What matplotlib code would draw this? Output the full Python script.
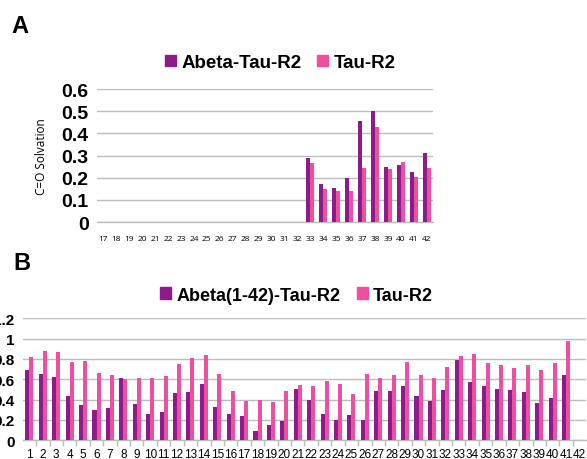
import numpy as np
import matplotlib.pyplot as plt
from matplotlib.patches import Patch
from matplotlib.ticker import FixedLocator

# Panel A: C=O solvation, residues 17-42
res_a = list(range(17, 43))
abeta_tau_a = [0, 0, 0, 0, 0, 0, 0, 0, 0, 0, 0, 0, 0, 0, 0, 0,
               0.29, 0.17, 0.153, 0.197, 0.456, 0.50, 0.25, 0.256, 0.228, 0.312]
tau_a = [0, 0, 0, 0, 0, 0, 0, 0, 0, 0, 0, 0, 0, 0, 0, 0,
         0.265, 0.148, 0.139, 0.14, 0.243, 0.43, 0.238, 0.27, 0.203, 0.246]

# Panel B: residues 1-42 (no bars for 42)
res_b = list(range(1, 43))
abeta_tau_b = [0.69, 0.65, 0.62, 0.43, 0.35, 0.30, 0.32, 0.61, 0.36, 0.26,
               0.28, 0.46, 0.47, 0.55, 0.33, 0.26, 0.24, 0.09, 0.145, 0.19,
               0.50, 0.40, 0.26, 0.20, 0.25, 0.20, 0.48, 0.48, 0.53, 0.43,
               0.39, 0.49, 0.79, 0.57, 0.53, 0.50, 0.49, 0.47, 0.37, 0.41,
               0.64, 0]
tau_b = [0.82, 0.88, 0.87, 0.77, 0.78, 0.66, 0.64, 0.60, 0.61, 0.61,
         0.63, 0.75, 0.81, 0.84, 0.65, 0.48, 0.39, 0.40, 0.38, 0.48,
         0.54, 0.53, 0.58, 0.55, 0.455, 0.65, 0.61, 0.64, 0.77, 0.64,
         0.61, 0.72, 0.83, 0.85, 0.76, 0.74, 0.71, 0.74, 0.69, 0.76,
         0.98, 0]

DARK = "#8C1C8A"
PINK = "#EE4FA1"
GRID = "#BDBDBD"
BOLD = "Liberation Sans"

fig = plt.figure(figsize=(5.87, 4.60), dpi=100)


def bar_panel(ax, labels, s1, s2, ymax, ystep, width):
    x = np.arange(len(labels))
    ax.bar(x - width / 2, s1, width, color=DARK, zorder=3)
    ax.bar(x + width / 2, s2, width, color=PINK, zorder=3)
    ax.set_xlim(-0.5, len(labels) - 0.5)
    ax.set_ylim(0, ymax)
    ax.set_yticks(np.round(np.arange(0, ymax + 1e-9, ystep), 2))
    ax.set_xticks(x)
    ax.set_xticklabels([str(v) for v in labels])
    ax.yaxis.grid(True, color=GRID, linewidth=1, zorder=0)
    for side in ["top", "right", "left"]:
        ax.spines[side].set_visible(False)
    ax.spines["bottom"].set_color(GRID)
    ax.spines["bottom"].set_linewidth(1)
    ax.tick_params(axis="y", length=0, pad=6)
    ax.tick_params(axis="x", which="major", length=0)
    for t in ax.get_yticklabels():
        t.set_fontfamily(BOLD)
        t.set_fontweight("bold")
    return x


# ---- Panel A ----
ax_a = fig.add_axes([0.165, 0.515, 0.573, 0.289])
bar_panel(ax_a, res_a, abeta_tau_a, tau_a, 0.6, 0.1, 0.31)
ax_a.set_yticklabels(["0", "0.1", "0.2", "0.3", "0.4", "0.5", "0.6"])
for t in ax_a.get_yticklabels():
    t.set_fontsize(14)
for t in ax_a.get_xticklabels():
    t.set_fontsize(6)
    t.set_fontfamily("Open Sans")
ax_a.tick_params(axis="x", pad=9)
ax_a.set_ylabel("C=O Solvation", fontsize=8.5, family="Open Sans", labelpad=10)
ax_a.legend(handles=[Patch(color=DARK, label="Abeta-Tau-R2"),
                     Patch(color=PINK, label="Tau-R2")],
            loc="center", bbox_to_anchor=(0.545, 1.2), ncol=2,
            frameon=False, handlelength=0.6, handleheight=0.6,
            handletextpad=0.3, columnspacing=0.8, borderpad=0,
            prop={"family": BOLD, "weight": "bold", "size": 13.5})
fig.text(0.02, 0.928, "A", fontsize=17, fontweight="bold", family=BOLD)

# ---- Panel B ----
ax_b = fig.add_axes([0.0387, 0.041, 0.96, 0.265])
xb = bar_panel(ax_b, res_b, abeta_tau_b, tau_b, 1.2, 0.2, 0.3)
ax_b.set_yticklabels(["0", "0.2", "0.4", "0.6", "0.8", "1", "1.2"])
for t in ax_b.get_yticklabels():
    t.set_fontsize(11)
for t in ax_b.get_xticklabels():
    t.set_fontsize(8.5)
    t.set_fontfamily(BOLD)
ax_b.xaxis.set_minor_locator(FixedLocator(xb[:-1] + 0.5))
ax_b.tick_params(axis="x", which="minor", length=4, color=GRID, width=1)
ax_b.tick_params(axis="x", which="major", pad=6)
ax_b.legend(handles=[Patch(color=DARK, label="Abeta(1-42)-Tau-R2"),
                     Patch(color=PINK, label="Tau-R2")],
            loc="center", bbox_to_anchor=(0.486, 1.19), ncol=2,
            frameon=False, handlelength=0.6, handleheight=0.6,
            handletextpad=0.3, columnspacing=0.9, borderpad=0,
            prop={"family": BOLD, "weight": "bold", "size": 13})
fig.text(0.022, 0.413, "B", fontsize=17, fontweight="bold", family=BOLD)

fig.savefig("out.png", dpi=100)
